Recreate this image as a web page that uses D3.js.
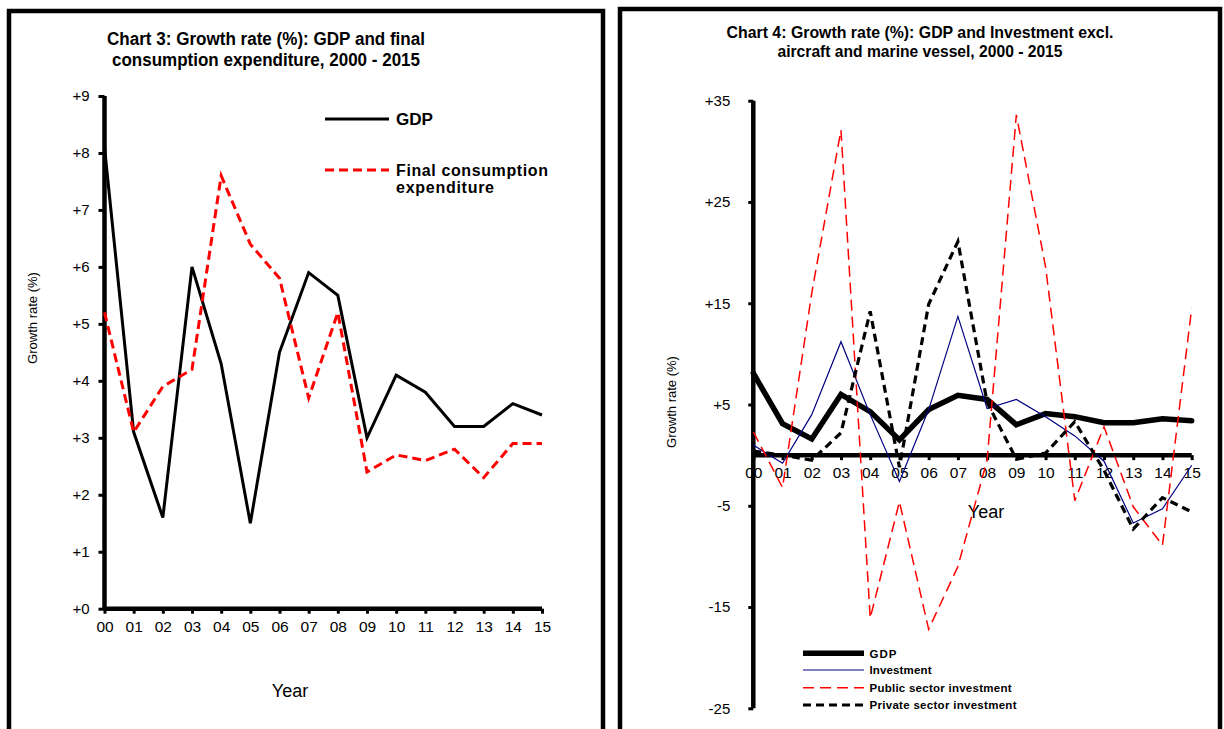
<!DOCTYPE html>
<html><head><meta charset="utf-8">
<script src="https://cdn.jsdelivr.net/npm/d3@7"></script>
<style>
body{margin:0;background:#fff}
svg{display:block}
text{font-family:"Liberation Sans",Arial,Helvetica,sans-serif;fill:#000}
</style>
</head><body>
<svg id="c" width="1224" height="729"></svg>
<script>
// Year labels (2000-2015)
const years = ["00","01","02","03","04","05","06","07","08","09","10","11","12","13","14","15"];

// Chart 3 series (growth rate, %)
const gdp = [8.1, 3.1, 1.6, 6.0, 4.3, 1.5, 4.5, 5.9, 5.5, 3.0, 4.1, 3.8, 3.2, 3.2, 3.6, 3.4];
const finalConsumption = [5.2, 3.1, 3.9, 4.2, 7.6, 6.4, 5.8, 3.7, 5.2, 2.4, 2.7, 2.6, 2.8, 2.3, 2.9, 2.9];

// Chart 4 series (growth rate, %)
const investment = [1.0, -0.8, 4.0, 11.2, 4.0, -2.6, 4.5, 13.7, 4.6, 5.5, 3.8, 1.9, -0.6, -6.7, -5.3, -1.0];
const publicInvestment = [2.3, -3.2, 16.0, 32.1, -16.1, -4.6, -17.2, -11.0, -0.5, 33.6, 18.6, -4.5, 2.8, -5.1, -8.9, 14.5];
const privateInvestment = [0.4, 0.0, -0.5, 2.2, 14.2, -1.2, 14.9, 21.1, 5.2, -0.4, 0.2, 3.3, -1.5, -7.3, -4.2, -5.6];

// Axis ticks
const leftTicks = [0, 1, 2, 3, 4, 5, 6, 7, 8, 9];
const rightTicks = [-25, -15, -5, 5, 15, 25, 35];

const svg = d3.select("#c");
const signed = d => d > 0 ? "+" + d : d < 0 ? "-" + Math.abs(d) : "+0";

// ---------- panel frames ----------
svg.append("rect").attr("x", 9).attr("y", 11).attr("width", 594).attr("height", 740)
  .attr("fill", "none").attr("stroke", "#000").attr("stroke-width", 4.5);
svg.append("rect").attr("x", 620).attr("y", 9).attr("width", 600).attr("height", 740)
  .attr("fill", "none").attr("stroke", "#000").attr("stroke-width", 4.5);

function title(lines, cx, ys, size, lens) {
  lines.forEach((t, i) => {
    svg.append("text").attr("x", cx).attr("y", ys[i]).attr("text-anchor", "middle")
      .attr("font-size", size).attr("font-weight", "bold")
      .attr("textLength", lens[i]).attr("lengthAdjust", "spacingAndGlyphs").text(t);
  });
}

function styleAxis(g, size) {
  g.attr("font-size", size).attr("font-family", "Liberation Sans, Arial, sans-serif");
  g.selectAll(".tick line").attr("stroke-width", 3);
  g.selectAll(".tick text").style("font-size", size + "px");
}

// ================= Chart 3 =================
{
  const x = d3.scaleLinear().domain([0, 15]).range([104.5, 542]);
  const y = d3.scaleLinear().domain([0, 9]).range([608.7, 96]);

  title(["Chart 3: Growth rate (%): GDP and final", "consumption expenditure, 2000 - 2015"],
        266, [45, 66], 18, [318, 308]);

  // y axis
  const ya = svg.append("g").attr("transform", `translate(${x(0)},0)`)
    .call(d3.axisLeft(y).tickValues(leftTicks).tickFormat(signed).tickSize(6).tickPadding(9));
  ya.select(".domain").attr("stroke-width", 4.5).attr("d", `M0,${y(9)}V${y(0)}`);
  styleAxis(ya, 15);

  // x axis
  const xa = svg.append("g").attr("transform", `translate(0,${y(0)})`)
    .call(d3.axisBottom(x).tickValues(d3.range(16)).tickFormat(i => years[i]).tickSize(5).tickPadding(7));
  xa.select(".domain").attr("stroke-width", 4.5).attr("d", `M${x(0)},0H${x(15)}`);
  styleAxis(xa, 15.5);

  svg.append("text").attr("x", 290).attr("y", 697).attr("text-anchor", "middle")
    .attr("font-size", 18).text("Year");
  svg.append("text").attr("transform", "translate(37,318) rotate(-90)").attr("text-anchor", "middle")
    .attr("font-size", 13).text("Growth rate (%)");

  const line = d3.line().x((d, i) => x(i)).y(d => y(d));
  svg.append("path").datum(gdp).attr("d", line).attr("fill", "none")
    .attr("stroke", "#000").attr("stroke-width", 3).attr("stroke-linejoin", "miter");
  svg.append("path").datum(finalConsumption).attr("d", line).attr("fill", "none")
    .attr("stroke", "#ff0000").attr("stroke-width", 3).attr("stroke-dasharray", "9,5");

  // legend
  svg.append("line").attr("x1", 325).attr("x2", 389).attr("y1", 119).attr("y2", 119)
    .attr("stroke", "#000").attr("stroke-width", 3);
  svg.append("text").attr("x", 396).attr("y", 125).attr("font-size", 16).attr("font-weight", "bold")
    .attr("textLength", 37).attr("lengthAdjust", "spacingAndGlyphs").text("GDP");
  svg.append("line").attr("x1", 325).attr("x2", 389).attr("y1", 170).attr("y2", 170)
    .attr("stroke", "#ff0000").attr("stroke-width", 3).attr("stroke-dasharray", "9,5");
  svg.append("text").attr("x", 396).attr("y", 176).attr("font-size", 16).attr("font-weight", "bold")
    .attr("textLength", 152).attr("lengthAdjust", "spacing").text("Final consumption");
  svg.append("text").attr("x", 396).attr("y", 193).attr("font-size", 16).attr("font-weight", "bold")
    .attr("textLength", 98).attr("lengthAdjust", "spacing").text("expenditure");
}

// ================= Chart 4 =================
{
  const x = d3.scaleLinear().domain([0, 15]).range([753.3, 1191.7]);
  const y = d3.scaleLinear().domain([-25, 35]).range([708.3, 100.7]);

  title(["Chart 4: Growth rate (%): GDP and Investment excl.", "aircraft and marine vessel, 2000 -  2015"],
        920, [38, 57], 16.5, [387, 285]);

  const ya = svg.append("g").attr("transform", `translate(${x(0)},0)`)
    .call(d3.axisLeft(y).tickValues(rightTicks).tickFormat(signed).tickSize(5).tickPadding(18));
  ya.select(".domain").attr("stroke-width", 4.5).attr("d", `M0,${y(35)}V${y(-25)}`);
  styleAxis(ya, 15);

  const xa = svg.append("g").attr("transform", `translate(0,${y(0)})`)
    .call(d3.axisBottom(x).tickValues(d3.range(16)).tickFormat(i => years[i]).tickSize(5).tickPadding(7));
  xa.select(".domain").attr("stroke-width", 4.5).attr("d", `M${x(0)},0H${x(15)}`);
  styleAxis(xa, 15.5);

  svg.append("text").attr("x", 986).attr("y", 518).attr("text-anchor", "middle")
    .attr("font-size", 18).text("Year");
  svg.append("text").attr("transform", "translate(676,402) rotate(-90)").attr("text-anchor", "middle")
    .attr("font-size", 13).text("Growth rate (%)");

  const line = d3.line().x((d, i) => x(i)).y(d => y(d));
  const series = [
    {name: "GDP", data: gdp, color: "#000", width: 5.5, dash: null},
    {name: "Investment", data: investment, color: "#000080", width: 1.2, dash: null},
    {name: "Public sector investment", data: publicInvestment, color: "#ff0000", width: 1.5, dash: "11,6"},
    {name: "Private sector investment", data: privateInvestment, color: "#000", width: 3.2, dash: "8,5"}
  ];
  series.forEach(s => {
    svg.append("path").datum(s.data).attr("d", line).attr("fill", "none")
      .attr("stroke", s.color).attr("stroke-width", s.width)
      .attr("stroke-dasharray", s.dash).attr("stroke-linecap", s.name === "GDP" ? "round" : "butt");
  });

  // legend
  const ly = [653.3, 670, 687.7, 705];
  const lw = [27, 62, 142, 147];
  series.forEach((s, i) => {
    svg.append("line").attr("x1", 803).attr("x2", 864).attr("y1", ly[i]).attr("y2", ly[i])
      .attr("stroke", s.color).attr("stroke-width", s.width).attr("stroke-dasharray", s.dash);
    svg.append("text").attr("x", 869.5).attr("y", ly[i] + 4.2).attr("font-size", 11.5)
      .attr("font-weight", "bold").attr("textLength", lw[i]).attr("lengthAdjust", "spacing").text(s.name);
  });
}
</script>
</body></html>
